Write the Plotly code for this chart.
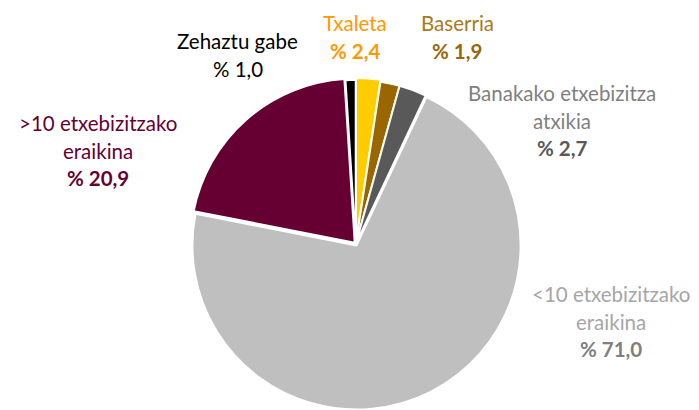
import plotly.graph_objects as go

categories = ["Zehaztu gabe", "Txaleta", "Baserria", "Banakako etxebizitza atxikia",
              "<10 etxebizitzako eraikina", ">10 etxebizitzako eraikina"]
values = [1.0, 2.4, 1.9, 2.7, 71.0, 20.9]
value_labels = ["% 1,0", "% 2,4", "% 1,9", "% 2,7", "% 71,0", "% 20,9"]

slice_colors = ["#000000", "#FFCC00", "#996600", "#595959", "#BFBFBF", "#660033"]
name_colors = ["#000000", "#FF9900", "#A87A1A", "#7F7F7F", "#A6A6A6", "#660033"]
value_colors = ["#000000", "#FF9900", "#99660A", "#595959", "#7F7F7F", "#660033"]
value_bold = [False, True, True, True, True, True]

# label layout: list of name lines, x-center px, y-center of lines px
label_lines = [["Zehaztu gabe"], ["Txaleta"], ["Baserria"],
               ["Banakako etxebizitza", "atxikia"],
               ["<10 etxebizitzako", "eraikina"],
               [">10 etxebizitzako", "eraikina"]]
label_x = [238, 355, 457, 562, 611, 98]
label_y0 = [41, 23, 23, 93, 294, 123]
line_gap = 27.5

W, H = 699, 410
total = sum(values)

fig = go.Figure(go.Pie(
    labels=categories,
    values=values,
    sort=False,
    direction="clockwise",
    rotation=-values[0] / total * 360,
    marker=dict(colors=slice_colors, line=dict(color="white", width=2)),
    pull=[0.0, 0.012, 0.0, 0.0, 0.01, 0.01],
    textinfo="none",
    hoverinfo="label+percent",
    showlegend=False,
    domain=dict(x=[0.509 - 0.35, 0.509 + 0.35], y=[0.0, 0.81]),
))

font_family = "Lato, 'Open Sans', sans-serif"
fsize = 20.5
for i in range(len(categories)):
    lines = label_lines[i]
    for j, t in enumerate(lines):
        fig.add_annotation(x=label_x[i] / W, y=1 - (label_y0[i] + j * line_gap) / H,
                           xref="paper", yref="paper", text=t, showarrow=False,
                           xanchor="center", yanchor="middle",
                           font=dict(family=font_family, size=fsize, color=name_colors[i]))
    vt = value_labels[i]
    if value_bold[i]:
        vt = "<b>" + vt + "</b>"
    fig.add_annotation(x=label_x[i] / W, y=1 - (label_y0[i] + len(lines) * line_gap) / H,
                       xref="paper", yref="paper", text=vt, showarrow=False,
                       xanchor="center", yanchor="middle",
                       font=dict(family=font_family, size=fsize, color=value_colors[i]))

fig.update_layout(width=W, height=H, margin=dict(l=0, r=0, t=0, b=0),
                  paper_bgcolor="white", plot_bgcolor="white")
fig.write_html("out.html", config={"displayModeBar": False},
               post_script="document.body.style.margin='0';document.body.style.overflow='hidden';")
